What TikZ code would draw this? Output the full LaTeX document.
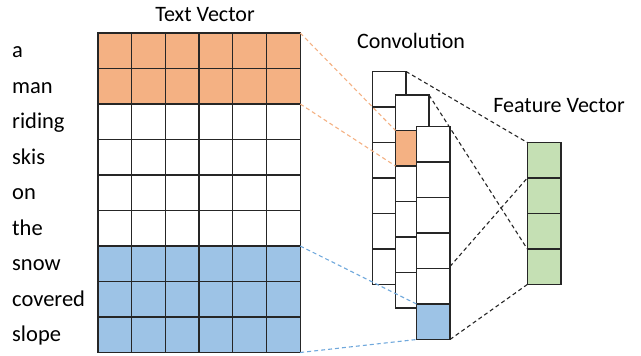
\documentclass[tikz,border=0pt]{standalone}
\usepackage{fontspec}
\setmainfont{Carlito}
\usepackage{tikz}
\usetikzlibrary{calc}

\definecolor{tvorange}{HTML}{F4B183}
\definecolor{tvblue}{HTML}{9DC3E6}
\definecolor{fvgreen}{HTML}{C5E0B4}
\definecolor{linkorange}{HTML}{F4B183}
\definecolor{linkblue}{HTML}{6FA8DC}
\definecolor{gridline}{HTML}{262626}

\begin{document}
\begin{tikzpicture}[x=1pt,y=-1pt,
        cell/.style={draw=gridline,line width=1.3pt},
        word/.style={anchor=base west,inner sep=0pt,font=\fontsize{22.5}{26}\selectfont},
        title/.style={inner sep=0pt,font=\fontsize{22}{26}\selectfont},
        link/.style={line width=1.1pt,dash pattern=on 4pt off 3pt},
        orangelink/.style={link,linkorange},
        bluelink/.style={link,linkblue},
        featlink/.style={link,black!85}]
            \path[use as bounding box] (0,0) rectangle (641,356);

            % text vector, one row per word
            \coordinate (tv) at (98,33);
            \foreach[count=\i from 0] \w/\col in {a/tvorange,man/tvorange,riding/white,skis/white,on/white,the/white,snow/tvblue,covered/tvblue,slope/tvblue} {
                \node[word] (w\i) at (12,33+35.5*\i+24.5) {\w};
                \foreach \j in {0,...,5} {
                    \draw[cell,fill=\col] ($ (tv) + (33.7*\j,35.5*\i) $) rectangle ++(33.7,35.5);
                }
            }
            \coordinate (tv-o1) at ($ (tv) + (202.2,0) $);
            \coordinate (tv-o2) at ($ (tv) + (202.2,71) $);
            \coordinate (tv-b1) at ($ (tv) + (202.2,213) $);
            \coordinate (tv-b2) at ($ (tv) + (202.2,319.5) $);

            % convolution columns, each with its one coloured cell
            \foreach[count=\k] \x/\y/\h/\hc in {372.5/71.5/0/white,395.5/95/1/tvorange,416.5/126.5/5/tvblue} {
                \coordinate (c\k) at (\x,\y);
                \foreach \j in {0,...,5} {
                    \draw[cell,fill=white] ($ (c\k) + (0,35.5*\j) $) rectangle ++(33.5,35.5);
                }
                \draw[cell,fill=\hc] ($ (c\k) + (0,35.5*\h) $) rectangle ++(33.5,35.5);
            }

            % feature vector
            \coordinate (f) at (527.3,142.5);
            \foreach \j in {0,...,3} {
                \draw[cell,fill=fvgreen] ($ (f) + (0,35.5*\j) $) rectangle ++(33.7,35.5);
            }

            \node[title] (tvlabel) at (205,15) {Text Vector};
            \node[title] (convlabel) at (411,41) {Convolution};
            \node[title] (fvlabel) at (559,106) {Feature Vector};

            % dashed links
            \draw[orangelink] (tv-o1) -- ($ (c2) + (0,35.5) $);
            \draw[orangelink] (tv-o2) -- ($ (c2) + (0,71) $);
            \draw[bluelink] (tv-b1) -- ($ (c3) + (0,177.5) $);
            \draw[bluelink] (tv-b2) -- ($ (c3) + (0,213) $);

            \draw[featlink] ($ (c1) + (33.5,0) $) -- (f);
            \draw[featlink] ($ (c2) + (33.5,0) $) -- ($ (f) + (0,106.5) $);
            \draw[featlink] ($ (c3) + (33.5,140) $) -- ($ (f) + (0,35.5) $);
            \draw[featlink] ($ (c3) + (33.5,213) $) -- ($ (f) + (0,142) $);
        \end{tikzpicture}
\end{document}
